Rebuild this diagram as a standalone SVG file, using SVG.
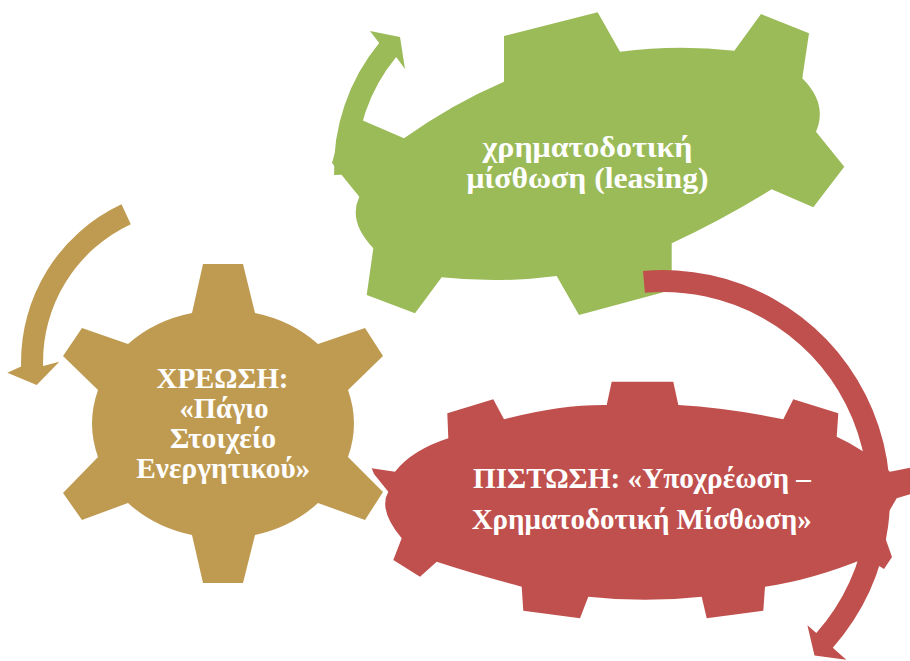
<svg xmlns="http://www.w3.org/2000/svg" width="910" height="661" viewBox="0 0 910 661">
<style>
.gold{fill:#BF9B52}
.green{fill:#9BBB59}
.red{fill:#C0504D}
.halo{stroke:#FFFFFF;stroke-width:6;stroke-linejoin:miter;paint-order:stroke}
.t{font-family:"Liberation Serif","Times New Roman","Noto Sans CJK SC",serif;font-weight:bold;font-size:29.5px;fill:#FFFFFF;text-anchor:middle}
</style>
<rect width="910" height="661" fill="#FFFFFF"/>
<g id="gear-green">
<path class="green" d="M504,81.7 L504,36 L597.7,12.3 L620,51.7 Q677,44.2 734.3,50.7 L761,14 L809,33.3 L802.3,78.3 Q828,104 816,131.7 L844.3,166.7 L813.3,207.3 L771.7,189.3 Q724,219 671.7,243.3 L671.7,290 L579,315 L556.7,276 Q499,283.5 441.7,277.3 L415,313.3 L366.7,295 L373.3,248.3 Q347.7,221.5 359.3,196.7 L341.7,175 L332,163 L346,114 L361.7,120 L404,138.3 Q452,104 504,81.7 Z"/>
<text class="t" x="587.5" y="156.7" textLength="210" lengthAdjust="spacingAndGlyphs">χρηματοδοτική</text>
<text class="t" x="587.5" y="188.3" textLength="242" lengthAdjust="spacingAndGlyphs">μίσθωση (leasing)</text>
</g>
<g id="gear-gold">
<path class="gold" d="M192,313 L203,264 L243,264 L255,313 A130 113 0 0 1 318,344 L365,328 L383,356 L348,390 A130 113 0 0 1 348,457 L383,492 L365,520 L318,503 A130 113 0 0 1 255,535 L243,583 L203,583 L192,535 A130 113 0 0 1 128,503 L82,520 L63,493 L98,457 A130 113 0 0 1 98,390 L63,356 L82,328 L128,344 A130 113 0 0 1 192,313 Z"/>
<text class="t" x="222.5" y="388.3" textLength="132" lengthAdjust="spacingAndGlyphs">ΧΡΕΩΣΗ:</text>
<text class="t" x="224" y="418.3" textLength="89" lengthAdjust="spacingAndGlyphs">«Πάγιο</text>
<text class="t" x="223" y="448.3" textLength="106" lengthAdjust="spacingAndGlyphs">Στοιχείο</text>
<text class="t" x="223.3" y="478.3" textLength="174" lengthAdjust="spacingAndGlyphs">Ενεργητικού»</text>
</g>
<g id="gear-red">
<path class="red halo" d="M371.7,468.3 L395,471.7 Q412,450 448.3,438.3 L447.3,413.3 L493.3,399.3 L504,419.3 Q560,404.5 606.7,405 L611.7,381.7 L673.3,381.7 L678.3,405 Q729,408 783.3,419.3 L793.3,399.3 L838.3,413.3 L836.7,436.7 Q862,448 890,471.7 L914,467 L914,493 L896.7,498.3 L884,520 L886,540 L892,557 L884,569 L866,558 Q812,580 765,586.7 L763.3,610.7 L706.7,618.3 L701.7,596.7 Q645,603 588.3,596.7 L580,618.3 L523.3,610.7 L521.7,586.7 Q474,574 436.7,561.7 L420,576.7 L393.3,560 L401.7,538.3 Q378,510 388.3,491.7 L374,474 Z"/>
<text class="t" x="642" y="487.7" textLength="338" lengthAdjust="spacingAndGlyphs">ΠΙΣΤΩΣΗ: «Υποχρέωση –</text>
<text class="t" x="641.7" y="529" textLength="340" lengthAdjust="spacingAndGlyphs">Χρηματοδοτική Μίσθωση»</text>
</g>
<g id="connectors">
<path class="gold" d="M121.5,204.3 A174 174 0 0 0 21.1,366.6 L7.3,372.7 L36.7,385 L59.3,361.7 L43.1,366 A152 152 0 0 1 130.8,224.2 Z"/>
<path class="green" d="M334.1,175 A198 198 0 0 1 379.2,43.1 L370,31 L400,37 L405,69 L396.2,57 A176 176 0 0 0 356.1,174.3 Z"/>
<path class="red" d="M643,270.9 A227 227 0 0 1 832.8,647.7 L846.3,659.7 L814.5,655.5 L807.4,625.2 L816.3,633.1 A205 205 0 0 0 644.9,292.8 Z"/>
</g>
</svg>
